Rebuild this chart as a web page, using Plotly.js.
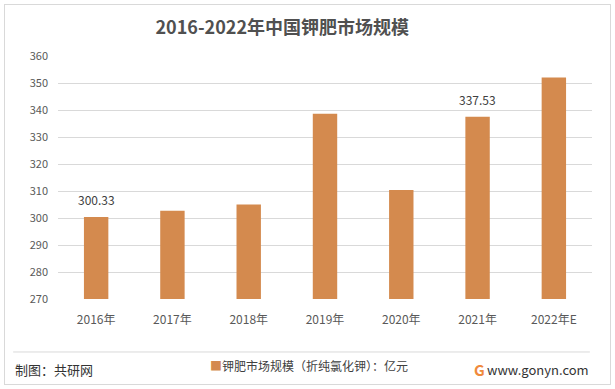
<!DOCTYPE html>
<html>
<head>
<meta charset="utf-8">
<script src="https://cdn.plot.ly/plotly-3.0.1.min.js"></script>
<style>
  html, body { margin: 0; padding: 0; background: #fff; }
  #wrap { position: relative; width: 615px; height: 389px; }
  #chart { width: 615px; height: 389px; }
  #frame { position: absolute; left: 4px; top: 4px; width: 605px; height: 379px;
           border: 1px solid #d9d9d9; pointer-events: none; }
</style>
</head>
<body>
<div id="wrap">
  <div id="chart"></div>
  <div id="frame"></div>
</div>
<script>
const categories = ["2016年", "2017年", "2018年", "2019年", "2020年", "2021年", "2022年E"];
const marketSize = [300.33, 302.7, 305.0, 338.6, 310.4, 337.53, 352.0];
const valueLabels = ["300.33", "", "", "", "", "337.53", ""];
const yTicks = [270, 280, 290, 300, 310, 320, 330, 340, 350, 360];
const seriesName = "钾肥市场规模（折纯氯化钾）：亿元";
const barColor = "#D48A4E";

const FONT = "'Noto Sans CJK SC', 'Noto Sans', sans-serif";

const trace = {
  type: "bar",
  x: categories,
  y: marketSize,
  name: seriesName,
  marker: { color: barColor },
  width: 0.32,
  showlegend: false,
  hoverinfo: "x+y"
};

const labelAnnotations = categories
  .map((c, i) => ({ c, v: marketSize[i], t: valueLabels[i] }))
  .filter(d => d.t !== "")
  .map(d => ({
    x: d.c, y: d.v, xref: "x", yref: "y",
    text: d.t, showarrow: false,
    yanchor: "bottom", yshift: 7,
    font: { family: FONT, size: 12, color: "#404040" }
  }));

const layout = {
  width: 615,
  height: 389,
  margin: { l: 58, r: 23, t: 56, b: 90 },
  paper_bgcolor: "#ffffff",
  plot_bgcolor: "#ffffff",
  font: { family: FONT, color: "#595959", size: 11 },
  title: {
    text: "<b>2016-2022年中国钾肥市场规模</b>",
    font: { family: FONT, size: 18, color: "#505050" },
    x: 0.42, xref: "paper", xanchor: "center",
    y: 0.928, yref: "container", yanchor: "middle"
  },
  xaxis: {
    type: "category",
    tickfont: { family: FONT, size: 12, color: "#595959" },
    showgrid: false,
    showline: false,
    zeroline: false,
    ticks: "",
    ticklabelstandoff: 12
  },
  yaxis: {
    range: [270, 360],
    tickvals: yTicks,
    ticktext: yTicks.map(String),
    tickfont: { family: FONT, size: 11, color: "#595959" },
    showgrid: true,
    gridcolor: "#d9d9d9",
    gridwidth: 1,
    zeroline: false,
    showline: false,
    ticks: "",
    ticklabelstandoff: 9
  },
  showlegend: false,
  shapes: [
    {
      type: "line", xref: "paper", yref: "paper",
      x0: -0.084, x1: 0.996, y0: -0.218, y1: -0.218,
      line: { color: "#d9d9d9", width: 1 }
    }
  ],
  annotations: labelAnnotations.concat([
    {
      text: "<span style='color:" + barColor + "'>■</span>" + seriesName,
      xref: "paper", yref: "paper",
      x: 0.28, xanchor: "left", y: -0.272, yanchor: "middle",
      showarrow: false, font: { family: FONT, size: 12, color: "#404040" }
    },
    {
      text: "制图：共研网", xref: "paper", yref: "paper",
      x: -0.084, xanchor: "left", y: -0.292, yanchor: "middle",
      showarrow: false, font: { family: FONT, size: 13, color: "#333333" }
    },
    {
      text: "<b>G</b>", xref: "paper", yref: "paper",
      x: 0.775, xanchor: "left", y: -0.29, yanchor: "middle",
      showarrow: false, font: { family: FONT, size: 15, color: "#F08A3C" }
    },
    {
      text: "www.gonyn.com", xref: "paper", yref: "paper",
      x: 0.998, xanchor: "right", y: -0.29, yanchor: "middle",
      showarrow: false, font: { family: FONT, size: 13, color: "#333333" }
    }
  ])
};

Plotly.newPlot("chart", [trace], layout, { displayModeBar: false, staticPlot: true });
</script>
</body>
</html>
